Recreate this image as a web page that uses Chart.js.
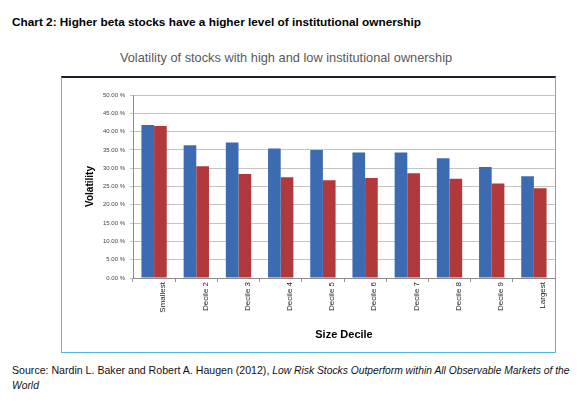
<!DOCTYPE html>
<html>
<head>
<meta charset="utf-8">
<script src="https://cdn.jsdelivr.net/npm/chart.js"></script>
<style>
  body { margin: 0; width: 580px; height: 405px; background: #fff; font-family: Arial, "Liberation Sans", sans-serif; position: relative; overflow: hidden; }
  #heading { position: absolute; left: 12px; top: 15px; font-size: 11.8px; font-weight: bold; color: #000; white-space: nowrap; }
  #title { position: absolute; left: 61px; width: 450px; top: 50px; text-align: center; font-size: 12.8px; color: #595959; white-space: nowrap; }
  #box { position: absolute; left: 61px; top: 76px; width: 493px; height: 274px; border: 1.5px solid #4fb8e6; border-top: 2px solid #1b1f2e; }
  #box canvas { position: absolute; left: 0; top: 0; }
  #source { position: absolute; left: 12px; top: 363px; width: 566px; font-size: 10.6px; line-height: 15px; color: #111; }
  #source i { font-size: 10.3px; }
</style>
</head>
<body>
<div id="heading">Chart 2: Higher beta stocks have a higher level of institutional ownership</div>
<div id="title">Volatility of stocks with high and low institutional ownership</div>
<div id="box"><canvas id="myChart" width="494" height="275"></canvas></div>
<div id="source">Source: Nardin L. Baker and Robert A. Haugen (2012), <i>Low Risk Stocks Outperform within All Observable Markets of the World</i></div>
<script>
// Data (persen)
const categories = ['Smallest', 'Decile 2', 'Decile 3', 'Decile 4', 'Decile 5', 'Decile 6', 'Decile 7', 'Decile 8', 'Decile 9', 'Largest'];
const highOwnership = [41.8, 36.3, 37.0, 35.4, 35.0, 34.3, 34.3, 32.7, 30.3, 27.8];
const lowOwnership = [41.5, 30.5, 28.4, 27.5, 26.7, 27.3, 28.6, 27.1, 25.8, 24.5];
const yTicks = [0, 5, 10, 15, 20, 25, 30, 35, 40, 45, 50];

const ctx = document.getElementById('myChart').getContext('2d');

new Chart(ctx, {
  type: 'bar',
  data: {
    labels: categories,
    datasets: [
      { label: 'High institutional ownership', data: highOwnership, backgroundColor: '#3d6bb2', categoryPercentage: 0.6, barPercentage: 1.0 },
      { label: 'Low institutional ownership', data: lowOwnership, backgroundColor: '#b1383b', categoryPercentage: 0.6, barPercentage: 1.0 }
    ]
  },
  options: {
    responsive: false,
    animation: false,
    layout: { padding: { top: 17, right: 1, bottom: 0, left: 0 } },
    plugins: { legend: { display: false }, tooltip: { enabled: false } },
    scales: {
      x: {
        grid: { offset: true, drawOnChartArea: false, drawTicks: true, tickLength: 4, color: '#8c8c8c' },
        border: { color: '#8c8c8c' },
        ticks: { minRotation: 90, maxRotation: 90, autoSkip: false, labelOffset: 9, padding: 0, color: '#222', font: { family: 'Arial', size: 8 } },
        title: { display: true, text: 'Size Decile', color: '#000', font: { family: 'Arial', size: 11, weight: 'bold' }, padding: { top: 11, bottom: 11 } },
        afterFit: (scale) => { scale.height = 75; }
      },
      y: {
        min: 0,
        max: 50,
        afterBuildTicks: (scale) => { scale.ticks = yTicks.map(v => ({ value: v })); },
        grid: { color: '#c4c4c4', tickLength: 3 },
        border: { color: '#8c8c8c' },
        ticks: { padding: 5, color: '#444', font: { family: 'Arial', size: 6 }, callback: (v) => v.toFixed(2) + ' %' },
        title: { display: true, text: 'Volatility', color: '#000', font: { family: 'Arial', size: 10, weight: 'bold' }, padding: { top: 22, bottom: 22 } },
        afterFit: (scale) => { scale.width = 71; }
      }
    }
  }
});
</script>
</body>
</html>
